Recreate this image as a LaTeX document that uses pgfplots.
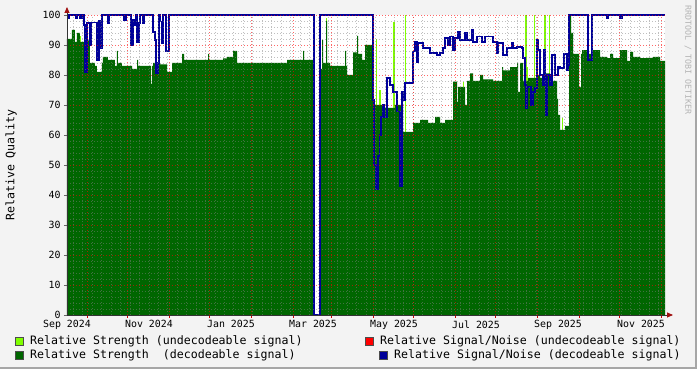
\documentclass[border=0pt]{standalone}
\usepackage{pgfplots}
\pgfplotsset{compat=1.18}
\usepackage{fontspec}
\setmainfont{DejaVu Sans Mono}
\usetikzlibrary{arrows.meta}
\definecolor{bg}{HTML}{F3F3F3}
\definecolor{dkgreen}{HTML}{006600}
\definecolor{ltgreen}{HTML}{80FF00}
\definecolor{snrblue}{HTML}{000099}
\definecolor{arrowred}{HTML}{A01010}
\definecolor{wm}{HTML}{B4B4B4}
\begin{document}
\begin{tikzpicture}
\path[use as bounding box] (-67bp,-54bp) rectangle (630bp,315bp);
\fill[bg] (-67bp,-54bp) rectangle (630bp,315bp);
\draw[line width=2bp, black!35] (-67bp,-53bp) -- (629bp,-53bp) -- (629bp,315bp);
\begin{axis}[
  scale only axis, width=598bp, height=300bp,
  xmin=0, xmax=598, ymin=0, ymax=100,
  clip=false,
  axis on top,
  axis background/.style={fill=white},
  axis x line*=bottom, axis y line*=left,
  x axis line style={black!80, line width=0.8bp, -{Triangle[width=5bp,length=6bp,color=arrowred]}, shorten >=-8bp},
  y axis line style={black!80, line width=0.8bp, -{Triangle[width=5bp,length=6bp,color=arrowred]}, shorten >=-8bp},
  ytick distance=10, minor y tick num=4,
  ymajorgrids, yminorgrids,
  xtick={20,60.5,102.3,142.8,184.6,226.4,264.2,306,346.5,388.3,428.7,470.6,512.4,552.4,594.7},
  xticklabels={},
  xmajorgrids, xminorgrids,
  minor xtick={6.4,15.84,...,598},
  extra x ticks={0,82,164,246,327,409,491,574},
  extra x tick labels={Sep 2024,Nov 2024,Jan 2025,Mar 2025,May 2025,Jul 2025,Sep 2025,Nov 2025},
  extra x tick style={grid=none, major tick length=0pt, xticklabel style={yshift=-2bp}},
  tick align=outside,
  major tick length=3bp, minor tick length=0pt,
  x tick style={color=red!80!black, line width=0.8bp},
  y tick style={color=black!60, line width=0.8bp},
  major grid style={dash pattern=on 1.2bp off 1.8bp, line width=0.9bp, color=red, opacity=0.6},
  minor grid style={dash pattern=on 1.2bp off 1.8bp, line width=0.8bp, color=black!50, opacity=0.5},
  tick label style={font=\fontsize{9.9bp}{11bp}\selectfont, text=black},
  /pgf/number format/assume math mode=true,
  ylabel={Relative Quality},
  every axis y label/.style={at={(axis description cs:-0.0936,0.5)}, rotate=90, anchor=center, font=\fontsize{11.6bp}{13bp}\selectfont},
]
% undecodeable strength (light green spikes)
\addplot[ycomb, draw=ltgreen, line width=1.2bp] coordinates {
(13,93)(236.3,88)(259.7,99)(309.7,92)(313,75)(327,97.8)(338.3,100)(396.3,77.8)
(459,100)(460.3,82.8)(467.3,100)(478,100)(482.3,100)(489.7,76.7)(495.3,65.6)};
% decodeable strength (dark green area)
\addplot[const plot, fill=dkgreen, draw=none] coordinates {
(0,92)(5,95)(8,91)(10,94)(13,91)(20,91.5)(23,84)(28,83)(30,81)(35,84)(36,86)(41,85)
(48,83)(50,88)(51,84)(55,83)(65,82)(70,85)(71,83)(84,77)(85,83)(86,84)(93,83.5)
(100,81)(105,84)(115,87)(117,85)(141,87)(142,85)(156,85.5)(160,86)(166,88)(170,84)
(183,84)(220,85)(236,88)(237,85)(247,0)(253,82)(255,91.7)(256,84)(259,98)(260,84)
(263,83)(278,88)(279,83)(280,80)(286,87.5)(290,93)(291,87)(295,85)(298,90)(305,95)
(306,70)(316,69)(328,70)(336,61)(346,64)(353,65)(361,64)(368,66)(373,64)(378,65)
(386,77.8)(390,71)(391,76)(398,70)(400,78)(403,80.5)(406,78)(413,80)(416,78.5)
(426,78)(435,82.6)(436,81.5)(443,82.6)(450,84)(451,74.4)(453,84)(456,78)(461,79)
(469,80)(473,79)(476,78)(478,80.5)(483,78)(490,72)(491,66.7)(493,61.7)(498,63)
(502,100)(504,94)(506,87)(512,76)(514,87)(515,88.3)(521,87)(525,88.3)(533,86)
(540,85.6)(543,87)(546,85.6)(553,88.3)(560,84.7)(563,87.7)(566,86)(573,85.6)
(580,85.7)(586,86)(593,84.7)(598,84.7)} \closedcycle;
% decodeable signal/noise (blue line)
\addplot[const plot, draw=snrblue, line width=1.8bp] coordinates {
(0,100)(0.5,98.9)(2,100)(9,98.9)(10.3,100)(13,98.9)(14.7,100)(17,96.7)(18,81)
(20,97.2)(23,90)(24,97.5)(29.7,85)(32,98)(33.5,89)(35,100)(40.7,97.2)(42.3,100)
(57.3,98.3)(58.7,100)(64,90)(65.7,98.3)(68,96.7)(69,100)(70.3,91)(71.7,97.2)(73,100)
(75.7,97.2)(77,100)(86.3,94.4)(88,91.7)(89,80.6)(90.7,84)(92,100)(93,97.8)(94.7,90.5)
(96,100)(99,88)(102,100)(247.3,0)(253,100)(306.3,71.7)(307.3,50)(309,42)(311.3,53)
(312.5,60)(314,66)(316,70)(317,66)(319.7,78.9)(323,76.7)(326.3,74.4)(329.7,67.8)
(333,43)(334.7,74.4)(336.3,71.7)(338,77.2)(346.3,87.8)(348,91)(349.7,84.4)(351.3,90.6)
(356.3,88.9)(363,87.2)(369.7,86.7)(373,87.2)(376.3,88.9)(378,92.2)(381.3,90)(383,92.8)
(386.3,88.3)(388,92.2)(391.3,94.4)(393,91.7)(398,93.9)(399.7,91.7)(404.7,95)(406.3,91.1)
(409.7,92.8)(414.7,91.1)(418,92.8)(426.3,91.1)(429.7,87.2)(431.3,90.6)(436.3,86.7)
(439.7,88.9)(444.7,90.6)(446.3,88.9)(449.7,89.4)(454.7,88.9)(456.3,85.6)(458,76.7)
(459,68.9)(460.3,76.1)(463.7,70)(465.7,74.4)(468,75.6)(469.7,91.7)(471.3,88.3)(473,80)
(475.7,76.7)(477,88.3)(478.5,66.7)(480,80)(483,76.7)(484.7,86.7)(488,80)(491.3,82.8)
(493,82.2)(497,87)(499.7,81.7)(501.3,83.3)(502.3,100)(521.3,85)(524.7,100)(539.7,98.9)
(541.3,100)(553,98.9)(554.7,100)(598,100)};
\end{axis}
% legend
\begin{scope}[font=\fontsize{11.6bp}{13bp}\selectfont]
\filldraw[fill=ltgreen, draw=black!70, line width=0.5bp] (-51.5bp,-30bp) rectangle (-43.5bp,-22bp);
\node[anchor=west, inner sep=0pt] at (-37bp,-26bp) {Relative Strength (undecodeable signal)};
\filldraw[fill=dkgreen, draw=black!70, line width=0.5bp] (-51.5bp,-44bp) rectangle (-43.5bp,-36bp);
\node[anchor=west, inner sep=0pt] at (-37bp,-40bp) {Relative Strength\ \ (decodeable signal)};
\filldraw[fill=red, draw=black!70, line width=0.5bp] (298bp,-30bp) rectangle (306bp,-22bp);
\node[anchor=west, inner sep=0pt] at (313bp,-26bp) {Relative Signal/Noise (undecodeable signal)};
\filldraw[fill=snrblue, draw=black!70, line width=0.5bp] (312bp,-44bp) rectangle (320bp,-36bp);
\node[anchor=west, inner sep=0pt] at (327bp,-40bp) {Relative Signal/Noise (decodeable signal)};
\end{scope}
\node[rotate=-90, font=\fontsize{8.3bp}{9bp}\selectfont, text=wm] at (621bp,255bp) {RRDTOOL / TOBI OETIKER};
\end{tikzpicture}
\end{document}
